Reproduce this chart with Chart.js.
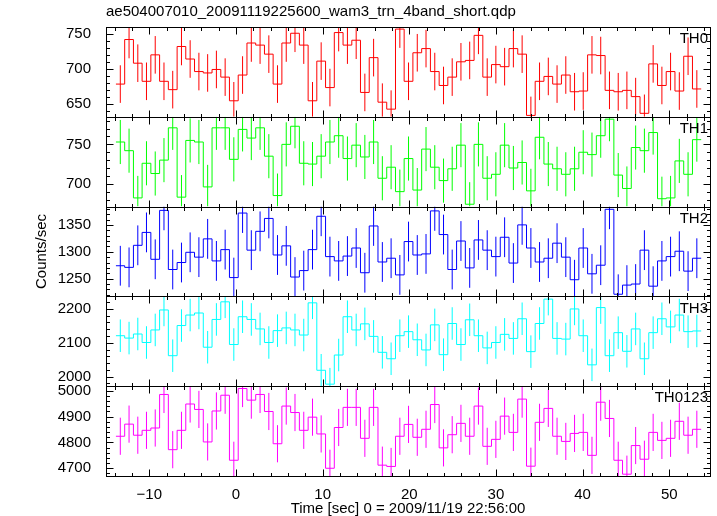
<!DOCTYPE html>
<html>
<head>
<meta charset="utf-8">
<script src="https://cdn.jsdelivr.net/npm/chart.js@4.4.1/dist/chart.umd.min.js"></script>
<style>
  body { margin: 0; background: #fff; }
  canvas { display: block; }
</style>
</head>
<body>
<canvas id="chart" width="717" height="516"></canvas>
<script>
// bin centres (sec)
var times = [-13.35, -12.34, -11.33, -10.33, -9.32, -8.31, -7.30, -6.29, -5.29, -4.28,
  -3.27, -2.26, -1.25, -0.25, 0.76, 1.77, 2.78, 3.79, 4.79, 5.80,
  6.81, 7.82, 8.83, 9.83, 10.84, 11.85, 12.86, 13.87, 14.87, 15.88,
  16.89, 17.90, 18.91, 19.91, 20.92, 21.93, 22.94, 23.95, 24.95, 25.96,
  26.97, 27.98, 28.99, 29.99, 31.00, 32.01, 33.02, 34.03, 35.03, 36.04,
  37.05, 38.06, 39.07, 40.07, 41.08, 42.09, 43.10, 44.11, 45.11, 46.12,
  47.13, 48.14, 49.15, 50.15, 51.16, 52.17, 53.18];
var binWidth = 1.008;

// counts/sec per band
var th0 = [678, 742, 708, 682, 720, 682, 670, 732, 714, 696,
  694, 699, 688, 654, 691, 737, 734, 721, 678, 737,
  751, 734, 654, 711, 673, 752, 734, 741, 666, 716,
  652, 642, 757, 682, 723, 729, 696, 676, 688, 710,
  712, 748, 688, 706, 703, 729, 721, 633, 682, 689,
  678, 691, 667, 668, 720, 719, 669, 667, 669, 660,
  636, 707, 676, 696, 668, 718, 671];
var th1 = [753, 742, 682, 726, 713, 730, 771, 683, 755, 753,
  696, 771, 771, 731, 769, 758, 771, 735, 685, 750,
  773, 726, 725, 735, 753, 761, 732, 749, 734, 753,
  707, 721, 690, 732, 692, 744, 721, 704, 719, 749,
  674, 750, 707, 712, 749, 720, 727, 691, 759, 725,
  719, 712, 719, 740, 737, 761, 782, 711, 694, 746,
  742, 765, 681, 682, 729, 712, 756];
var th2 = [1274, 1271, 1312, 1336, 1286, 1377, 1267, 1280, 1299, 1290,
  1324, 1283, 1304, 1252, 1372, 1303, 1338, 1362, 1294, 1311,
  1253, 1265, 1304, 1366, 1291, 1283, 1292, 1307, 1261, 1348,
  1281, 1288, 1257, 1319, 1294, 1296, 1376, 1332, 1267, 1320,
  1270, 1322, 1303, 1291, 1327, 1279, 1350, 1307, 1281, 1288,
  1316, 1290, 1248, 1307, 1259, 1275, 1379, 1221, 1238, 1240,
  1303, 1236, 1283, 1291, 1301, 1264, 1288];
var th3 = [2121, 2114, 2126, 2101, 2138, 2197, 2062, 2151, 2182, 2188,
  2087, 2169, 2221, 2095, 2177, 2169, 2141, 2101, 2136, 2144,
  2138, 2123, 2218, 2019, 1978, 2064, 2177, 2138, 2156, 2119,
  2072, 2053, 2121, 2133, 2109, 2079, 2153, 2065, 2157, 2095,
  2168, 2121, 2085, 2101, 2125, 2113, 2171, 2074, 2157, 2229,
  2113, 2111, 2200, 2121, 2035, 2204, 2062, 2130, 2075, 2141,
  2053, 2130, 2171, 2147, 2182, 2133, 2135];
var th0123 = [4824, 4871, 4828, 4847, 4856, 4986, 4772, 4847, 4949, 4928,
  4802, 4922, 4983, 4731, 5009, 4964, 4986, 4920, 4795, 4941,
  4916, 4847, 4898, 4833, 4700, 4858, 4936, 4936, 4816, 4936,
  4712, 4707, 4824, 4870, 4820, 4851, 4947, 4779, 4830, 4874,
  4824, 4941, 4785, 4812, 4902, 4839, 4968, 4708, 4878, 4932,
  4824, 4804, 4835, 4839, 4750, 4956, 4893, 4731, 4677, 4788,
  4735, 4839, 4808, 4816, 4882, 4828, 4851];

// 1-sigma error per band (about the same for every bin)
var err_th0 = 27, err_th1 = 28, err_th2 = 37, err_th3 = 48, err_th0123 = 72;

var panels = [
  {id: 'y0', name: 'TH0', values: th0, err: err_th0, color: '#ff0000', min: 631, max: 760, minor: 10, major: 50},
  {id: 'y1', name: 'TH1', values: th1, err: err_th1, color: '#00ff00', min: 671, max: 785, minor: 10, major: 50},
  {id: 'y2', name: 'TH2', values: th2, err: err_th2, color: '#0000ff', min: 1217, max: 1384, minor: 10, major: 50},
  {id: 'y3', name: 'TH3', values: th3, err: err_th3, color: '#00ffff', min: 1972, max: 2237, minor: 20, major: 100},
  {id: 'y4', name: 'TH0123', values: th0123, err: err_th0123, color: '#ff00ff', min: 4670, max: 5018, minor: 20, major: 100}
];

var font = {family: '"Liberation Sans", Arial, sans-serif', size: 15, weight: 'normal'};

function minus(v){
  return v < 0 ? '\u2212' + Math.abs(v) : String(v);
}

//histogram outline: left edges, then the right edge of the last bin
function steppoints(values){
  var pts = [];
  values.forEach(function(v, i){
    pts.push({x: times[i] - binWidth / 2, y: v});
  });
  pts.push({x: times[times.length - 1] + binWidth / 2, y: values[values.length - 1]});
  return pts;
}
//vertical error bars, broken by null points
function errpoints(values, err){
  var pts = [];
  values.forEach(function(v, i){
    pts.push({x: times[i], y: v - err});
    pts.push({x: times[i], y: v + err});
    pts.push({x: times[i], y: null});
  });
  return pts;
}

var datasets = [];
var scales = {
  x: {
    type: 'linear', min: -15, max: 54.7,
    grid: {display: false}, border: {display: false},
    ticks: {stepSize: 2, includeBounds: false, autoSkip: false, maxRotation: 0, padding: 2,
      font: font, color: '#000',
      callback: function(v){ return v % 10 === 0 ? minus(v) : ''; }},
    title: {display: true, text: 'Time [sec] 0 = 2009/11/19 22:56:00', font: font, color: '#000',
      padding: {top: 0, bottom: -2}},
    afterFit: function(s){ s.height = 40; }
  }
};

panels.forEach(function(p, i){
  datasets.push({
    data: steppoints(p.values), yAxisID: p.id, stepped: 'before',
    borderColor: p.color, borderWidth: 1, pointRadius: 0, fill: false
  });
  datasets.push({
    data: errpoints(p.values, p.err), yAxisID: p.id, spanGaps: false,
    borderColor: p.color, borderWidth: 1, pointRadius: 0, fill: false
  });
  scales[p.id] = {
    type: 'linear', position: 'left', stack: 'panels', stackWeight: 1, weight: 5 - i,
    min: p.min, max: p.max,
    grid: {display: false}, border: {display: false},
    ticks: {stepSize: p.minor, includeBounds: false, autoSkip: false, padding: 7,
      font: font, color: '#000',
      callback: function(v){ return v % p.major === 0 ? String(v) : ''; }},
    title: {display: p.id === 'y2', text: 'Counts/sec', font: font, color: '#000',
      padding: {top: 33, bottom: 0}},
    afterFit: function(s){ s.width = 106; }
  };
});

//frames, inward ticks on all sides, band names
var framePlugin = {
  id: 'frame',
  beforeDatasetDraw: function(chart, args){
    var ys = args.meta.yScale, area = chart.chartArea, ctx = chart.ctx;
    ctx.save();
    ctx.beginPath();
    ctx.rect(area.left, ys.top, area.right - area.left, ys.bottom - ys.top);
    ctx.clip();
  },
  afterDatasetDraw: function(chart){
    chart.ctx.restore();
  },
  afterDraw: function(chart){
    var ctx = chart.ctx, area = chart.chartArea, xs = chart.scales.x;
    var L = Math.round(area.left) + 0.5, R = Math.round(area.right) + 0.5;
    ctx.save();
    ctx.strokeStyle = '#000';
    ctx.lineWidth = 1;
    panels.forEach(function(p){
      var ys = chart.scales[p.id];
      var T = Math.round(ys.top) + 0.5, B = Math.round(ys.bottom) + 0.5;
      ctx.strokeRect(L, T, R - L, B - T);
      ctx.beginPath();
      ys.ticks.forEach(function(t){
        var y = Math.round(ys.getPixelForValue(t.value)) + 0.5;
        var len = t.value % p.major === 0 ? 7 : 3.5;
        ctx.moveTo(L, y); ctx.lineTo(L + len, y);
        ctx.moveTo(R, y); ctx.lineTo(R - len, y);
      });
      xs.ticks.forEach(function(t){
        var x = Math.round(xs.getPixelForValue(t.value)) + 0.5;
        var len = t.value % 10 === 0 ? 7 : 3.5;
        ctx.moveTo(x, T); ctx.lineTo(x, T + len);
        ctx.moveTo(x, B); ctx.lineTo(x, B - len);
      });
      ctx.stroke();
      ctx.fillStyle = '#000';
      ctx.font = '15px "Liberation Sans", Arial, sans-serif';
      ctx.textAlign = 'right';
      ctx.textBaseline = 'middle';
      ctx.fillText(p.name, area.right - 2, ys.top + 12);
    });
    ctx.restore();
  }
};

new Chart(document.getElementById('chart'), {
  type: 'line',
  data: {datasets: datasets},
  options: {
    responsive: false,
    animation: false,
    layout: {padding: {left: 0, right: 7, top: 0, bottom: 0}},
    plugins: {
      legend: {display: false},
      tooltip: {enabled: false},
      title: {display: true, text: 'ae504007010_20091119225600_wam3_trn_4band_short.qdp',
        align: 'start', fullSize: false, font: font, color: '#000',
        padding: {top: 3, bottom: 6}}
    },
    scales: scales
  },
  plugins: [framePlugin]
});
</script>
</body>
</html>
